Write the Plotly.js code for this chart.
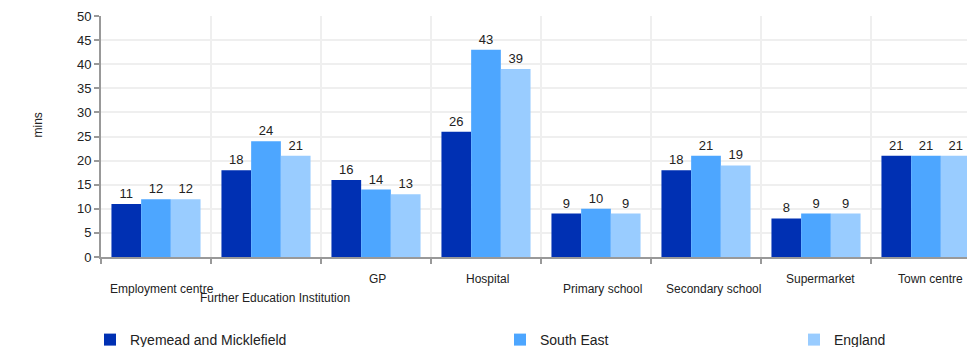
<!DOCTYPE html>
<html>
<head>
<meta charset="utf-8">
<script src="https://cdn.plot.ly/plotly-3.0.1.min.js"></script>
<style>html,body{margin:0;padding:0;background:#fff;overflow:hidden;}#chart{width:967px;height:370px;}</style>
</head>
<body>
<div id="chart"></div>
<script>
const categories = ["Employment centre","Further Education Institution","GP","Hospital","Primary school","Secondary school","Supermarket","Town centre"];
const seriesNames = ["Ryemead and Micklefield","South East","England"];
const ryemead = [11,18,16,26,9,18,8,21];
const southEast = [12,24,14,43,10,21,9,21];
const england = [12,21,13,39,9,19,9,21];
const yTickVals = [0,5,10,15,20,25,30,35,40,45,50];

// styling (not data)
const colors = ["#0030b3","#4da6ff","#99ccff"];
const labelYShift = [-32,-41,-22,-22,-32,-32,-22,-22];
const labelXShift = [6,9,1,1,6,7,4,4];
const legendPx = [90,500,794];
const FONT = "Liberation Sans, Arial, sans-serif";

const H = 370, axisY = 257, topY = 16;
const plotW = 866, catW = 110, plotH = axisY - topY;
const xMax = -0.5 + plotW/catW;

const values = [ryemead, southEast, england];
const legendIds = ["legend","legend2","legend3"];
const traces = values.map((v,i)=>({
  type:"bar", x:categories, y:v, name:seriesNames[i],
  marker:{color:colors[i]},
  text:v.map(String), textposition:"outside", cliponaxis:false,
  textfont:{family:FONT,size:13,color:"#222"},
  legend: legendIds[i], hoverinfo:"x+y"
}));

const annotations = categories.map((c,i)=>({
  x:c, xref:"x", y:0, yref:"paper", yanchor:"middle", xanchor:"center",
  yshift:labelYShift[i], xshift:labelXShift[i], text:c, showarrow:false,
  font:{family:FONT,size:12,color:"#222"}
}));
annotations.push({
  text:"mins", xref:"paper", yref:"paper", x:0, y:0.5, xshift:-73, yshift:11,
  textangle:-90, showarrow:false, font:{family:FONT,size:12,color:"#222"}
});

const legendBase = {orientation:"h", yanchor:"middle", xanchor:"left", y:-(340-axisY)/plotH,
  font:{family:FONT,size:14,color:"#222"}, bgcolor:"rgba(0,0,0,0)", borderwidth:0};
const lx = px => (px-101)/plotW;
const layout = {
  width:967, height:H,
  margin:{l:101, r:0, t:topY, b:H-axisY},
  paper_bgcolor:"#fff", plot_bgcolor:"#fff",
  barmode:"group", bargap:0.19, bargroupgap:0,
  showlegend:true,
  legend:Object.assign({}, legendBase, {x:lx(legendPx[0])}),
  legend2:Object.assign({}, legendBase, {x:lx(legendPx[1])}),
  legend3:Object.assign({}, legendBase, {x:lx(legendPx[2])}),
  xaxis:{type:"category", range:[-0.5,xMax], tickson:"boundaries", showgrid:true,
    gridcolor:"#efefef", gridwidth:2, showticklabels:false, ticks:"outside", ticklen:5,
    tickcolor:"#999", tickwidth:2, showline:true, linecolor:"#999", linewidth:2,
    fixedrange:true, zeroline:false},
  yaxis:{range:[0,50], tickvals:yTickVals, showgrid:true, gridcolor:"#efefef", gridwidth:2,
    ticks:"outside", ticklen:5, tickcolor:"#999", tickwidth:2, showline:true, linecolor:"#999",
    linewidth:2, zeroline:false, tickfont:{family:FONT,size:13,color:"#222"}, fixedrange:true},
  annotations:annotations,
  font:{family:FONT}
};
Plotly.newPlot("chart", traces, layout, {displayModeBar:false, staticPlot:true});
</script>
</body>
</html>
